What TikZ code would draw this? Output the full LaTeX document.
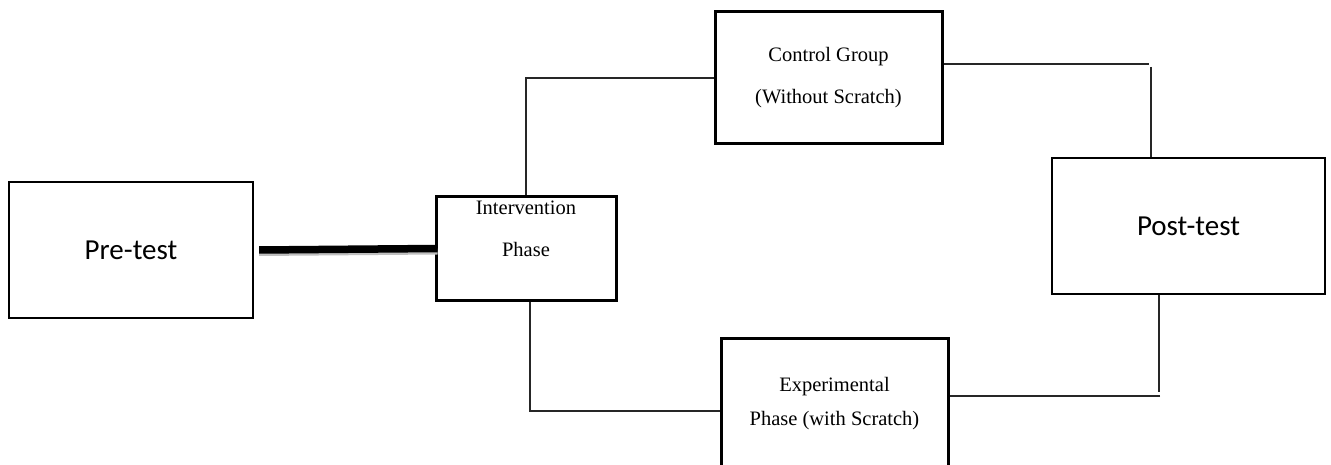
\documentclass[tikz,border=0pt]{standalone}
\usepackage{fontspec}
\setmainfont{Liberation Serif}
\newfontfamily\calibri{Carlito}
\usetikzlibrary{positioning}

\begin{document}
\begin{tikzpicture}[x=1pt, y=-1pt,
  box/.style={draw, line width=3pt, inner sep=0pt, align=center},
  thinbox/.style={draw, line width=2.2pt, inner sep=0pt, align=center},
  serif/.style={font=\fontsize{20.5}{42}\selectfont, align=center},
  bigtxt/.style={font=\calibri\fontsize{29}{34}\selectfont},
  conn/.style={line width=1.9pt, black!85},
  heavy/.style={line width=7.5pt, preaction={draw=black!25, line width=6pt, transform canvas={yshift=-3pt}}}]
\clip (0,0) rectangle (1331,465);
\fill[white] (0,0) rectangle (1331,465);

% boxes
\node[thinbox, bigtxt, minimum width=244pt, minimum height=136pt] (pre) at (131,250) {Pre-test};
\node[box, minimum width=180pt, minimum height=103pt] (interv) at (526,248.5) {};
\node[serif] (intervtxt) at ([yshift=20pt]interv.center) {Intervention\\Phase};
\node[box, serif, minimum width=227pt, minimum height=132pt] (ctrl) at (828.5,78) {Control Group\\(Without Scratch)};
\node[box, serif, font=\fontsize{20.5}{34}\selectfont, minimum width=227pt, minimum height=132pt] (exp) at (834.5,404) {Experimental\\Phase (with Scratch)};
\node[thinbox, bigtxt, minimum width=273pt, minimum height=136pt] (post) at (1188.5,226) {Post-test};

% free ends of the connectors
\coordinate (ctrlout) at (1149,64);
\coordinate (postin) at (1151,67);
\coordinate (postout) at (1159,392);
\coordinate (expin) at (1160,396);
\coordinate (intdown) at (530,411);

% connectors
\draw[heavy] ([xshift=5pt]pre.east) -- ([xshift=3pt]interv.west);
\draw[conn] (interv.north) |- (ctrl.west);
\draw[conn] (intdown |- interv.south) -- (intdown) -- (intdown -| exp.west);
\draw[conn] (ctrl.east |- ctrlout) -- (ctrlout);
\draw[conn] (postin) -- (postin |- post.north);
\draw[conn] (postout |- post.south) -- (postout);
\draw[conn] (expin) -- (expin -| exp.east);
\end{tikzpicture}
\end{document}
